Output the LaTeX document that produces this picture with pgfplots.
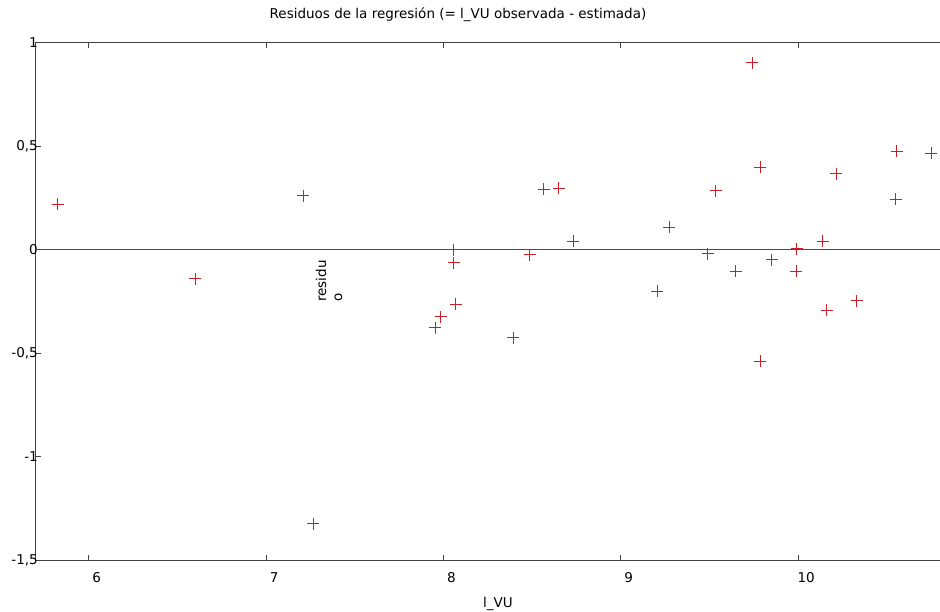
\documentclass[border=0pt]{standalone}
\usepackage{fontspec}
\setmainfont{DejaVu Sans}
\usepackage{pgfplots}
\pgfplotsset{compat=1.18}
\definecolor{mk}{RGB}{200,30,40}
\begin{document}
\fontsize{13.5}{16}\selectfont
\begin{tikzpicture}[x=1pt,y=1pt]
\path[use as bounding box] (0,0) rectangle (940,612);
\begin{axis}[
  at={(35.5pt,51.7pt)}, anchor=south west,
  scale only axis, width=904.5pt, height=517.6pt,
  xmin=5.70, xmax=10.80, ymin=-1.5, ymax=1,
  axis line style={draw=black!75, line width=0.9pt},
  xtick={6,7,8,9,10}, ytick={-1.5,-1,-0.5,0,0.5,1},
  tick align=inside, xtick pos=both, ytick pos=left,
  major tick length=5pt,
  tick style={black!75, line width=0.8pt},
  /pgf/number format/use comma,
  /pgf/number format/assume math mode=true,
  ticklabel style={font=\fontsize{13.5}{16}\selectfont},
  xticklabel style={anchor=north, inner sep=0pt, yshift=-12pt, xshift=8pt},
  yticklabel style={anchor=east, inner sep=0pt, xshift=2.5pt},
]
\addplot[black!70, line width=1.1pt, forget plot] coordinates {(5.70,0) (10.80,0)};
\addplot[only marks, mark=+, mark size=6pt, color=mk, mark options={draw=mk, line width=0.8pt}] coordinates {
(5.825,0.220) (6.602,-0.140) (7.209,0.261) (7.266,-1.323)
(8.059,0.000) (8.059,-0.063) (8.070,-0.263) (7.984,-0.324) (7.954,-0.376)
(8.395,-0.424) (8.487,-0.024) (8.566,0.293) (8.651,0.298) (8.732,0.042)
(9.742,0.903) (9.785,0.398) (9.535,0.285) (9.273,0.108) (9.491,-0.019)
(9.851,-0.048) (9.647,-0.105) (9.991,0.005) (9.990,-0.105) (9.206,-0.200)
(9.785,-0.539) (10.213,0.368) (10.556,0.476) (10.749,0.466) (10.550,0.245)
(10.138,0.040) (10.330,-0.247) (10.162,-0.292)
};
\end{axis}
\node[inner sep=0pt] at (458,597) {Residuos de la regresión (= l\_VU observada - estimada)};
\node[inner sep=0pt] at (498,8) {l\_VU};
\node[rotate=90, align=left, inner sep=0pt] at (329,331) {residu\\o};
\end{tikzpicture}
\end{document}
